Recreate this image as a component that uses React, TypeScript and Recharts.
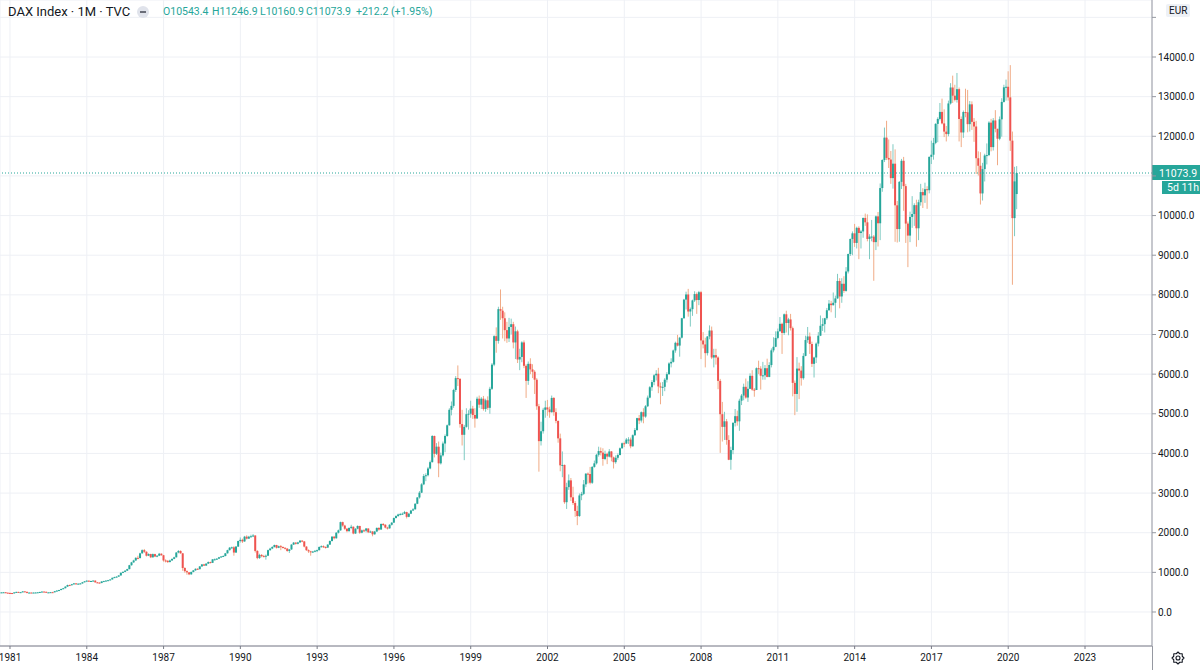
import { ComposedChart, Bar, XAxis, YAxis, CartesianGrid, ReferenceLine } from 'recharts';

const UP = '#26a69a';
const DOWN = '#ef5350';
const UP_WICK = '#7fcac2';
const DOWN_WICK = '#f0ab86';
const GRID = '#eef0f5';
const TEXT = '#131722';
const FONT = 'Roboto, "Noto Sans", sans-serif';

// monthly closes, Sep 1980 - Dec 1989
const close1980s = [
  495, 498, 487, 481,
  478, 470, 494, 507, 495, 500, 520, 509, 482, 490, 487, 490,
  492, 497, 505, 515, 510, 490, 495, 500, 497, 525, 540, 553,
  580, 600, 640, 680, 675, 700, 722, 700, 715, 720, 750, 774,
  790, 770, 782, 792, 748, 742, 730, 770, 780, 792, 802, 821,
  862, 880, 892, 922, 990, 1012, 1042, 1082, 1180, 1252, 1300, 1366,
  1360, 1480, 1560, 1520, 1420, 1462, 1380, 1460, 1400, 1420, 1470, 1432,
  1300, 1290, 1260, 1300, 1340, 1380, 1500, 1540, 1480, 1110, 1030, 1000,
  950, 1010, 1050, 1090, 1080, 1150, 1200, 1170, 1220, 1260, 1240, 1328,
  1330, 1345, 1380, 1400, 1412, 1480, 1560, 1622, 1632, 1500, 1650, 1790,
];
const high1980s = [
  500, 505, 500, 490,
  488, 482, 498, 512, 510, 505, 525, 524, 510, 496, 495, 496,
  498, 502, 510, 520, 520, 512, 500, 505, 508, 530, 548, 560,
  590, 608, 648, 690, 692, 708, 730, 728, 722, 732, 758, 780,
  800, 795, 790, 800, 795, 758, 748, 776, 788, 800, 810, 826,
  870, 890, 902, 930, 998, 1025, 1055, 1090, 1190, 1265, 1318, 1380,
  1420, 1495, 1580, 1590, 1530, 1480, 1470, 1475, 1470, 1435, 1490, 1480,
  1440, 1330, 1310, 1320, 1350, 1395, 1510, 1560, 1555, 1490, 1130, 1050,
  1010, 1020, 1060, 1100, 1105, 1160, 1210, 1215, 1230, 1275, 1270, 1335,
  1350, 1360, 1390, 1410, 1430, 1490, 1570, 1640, 1650, 1660, 1665, 1800,
];
const low1980s = [
  485, 490, 482, 475,
  470, 462, 468, 490, 490, 488, 498, 503, 470, 478, 480, 482,
  484, 488, 494, 502, 505, 486, 486, 488, 490, 495, 522, 535,
  550, 575, 596, 636, 665, 670, 695, 695, 695, 705, 716, 745,
  770, 762, 764, 775, 740, 730, 722, 728, 765, 775, 785, 798,
  818, 856, 872, 885, 918, 980, 1005, 1035, 1075, 1170, 1240, 1290,
  1330, 1350, 1470, 1490, 1400, 1410, 1360, 1370, 1385, 1380, 1410, 1420,
  1270, 1250, 1235, 1250, 1290, 1330, 1375, 1480, 1470, 1040, 990, 940,
  930, 940, 1000, 1040, 1065, 1075, 1140, 1160, 1165, 1210, 1225, 1235,
  1300, 1315, 1335, 1370, 1390, 1405, 1475, 1550, 1595, 1420, 1490, 1640,
];

// Jan 1990 - Dec 1999
const close1990s = [
  1820, 1780, 1900, 1850, 1900, 1910, 1930, 1540, 1360, 1440, 1410, 1398,
  1420, 1560, 1600, 1640, 1690, 1620, 1660, 1640, 1620, 1600, 1540, 1578,
  1700, 1750, 1720, 1755, 1800, 1780, 1650, 1560, 1530, 1510, 1525, 1545,
  1560, 1640, 1660, 1640, 1625, 1700, 1790, 1900, 1860, 2000, 2060, 2267,
  2180, 2100, 2040, 2120, 2150, 1980, 2100, 2170, 2000, 2060, 2050, 2107,
  2010, 2030, 1960, 2030, 2120, 2080, 2220, 2200, 2130, 2110, 2200, 2254,
  2370, 2420, 2460, 2470, 2480, 2520, 2400, 2480, 2560, 2590, 2730, 2889,
  3010, 3220, 3430, 3450, 3620, 3780, 4440, 3990, 4170, 3750, 3950, 4250,
  4440, 4710, 5100, 5200, 5600, 5900, 5880, 4740, 4470, 4670, 4990, 5002,
  5130, 4970, 4880, 5380, 5230, 5380, 5120, 5340, 5150, 5630, 6240, 6958,
];
const high1990s = [
  1880, 1850, 1920, 1935, 1920, 1950, 1966, 1935, 1560, 1470, 1460, 1440,
  1450, 1575, 1620, 1660, 1700, 1695, 1675, 1690, 1655, 1630, 1610, 1590,
  1710, 1765, 1760, 1770, 1815, 1812, 1790, 1660, 1580, 1545, 1540, 1560,
  1575, 1655, 1680, 1680, 1655, 1710, 1805, 1915, 1920, 2015, 2080, 2280,
  2280, 2200, 2120, 2135, 2200, 2160, 2115, 2185, 2175, 2080, 2090, 2120,
  2110, 2055, 2040, 2045, 2135, 2140, 2235, 2245, 2215, 2150, 2215, 2265,
  2385, 2440, 2480, 2500, 2510, 2550, 2530, 2500, 2575, 2620, 2745, 2900,
  3050, 3250, 3480, 3500, 3660, 3820, 4460, 4450, 4260, 4300, 4020, 4300,
  4480, 4730, 5140, 5310, 5630, 5950, 6220, 5900, 5100, 4720, 5140, 5090,
  5330, 5200, 5140, 5430, 5460, 5420, 5450, 5380, 5440, 5680, 6280, 6980,
];
const low1990s = [
  1750, 1740, 1770, 1830, 1845, 1880, 1890, 1500, 1330, 1340, 1380, 1380,
  1320, 1410, 1545, 1585, 1625, 1600, 1610, 1560, 1600, 1575, 1520, 1490,
  1570, 1690, 1700, 1705, 1745, 1760, 1630, 1540, 1490, 1420, 1490, 1505,
  1510, 1550, 1625, 1615, 1600, 1615, 1690, 1780, 1830, 1850, 1980, 2050,
  2150, 2070, 2010, 2025, 2090, 1960, 1970, 2085, 1970, 1985, 2020, 2010,
  1990, 1995, 1910, 1950, 2020, 2050, 2075, 2170, 2110, 2080, 2100, 2180,
  2250, 2360, 2400, 2440, 2450, 2470, 2360, 2390, 2470, 2545, 2585, 2720,
  2860, 3000, 3200, 3300, 3420, 3600, 3770, 3900, 3960, 3400, 3720, 3920,
  4030, 4420, 4700, 4960, 5150, 5550, 5700, 4650, 4200, 3830, 4650, 4600,
  4900, 4870, 4650, 4880, 5150, 5120, 5080, 5050, 5100, 5000, 5600, 6200,
];

// Jan 2000 - Dec 2009
const close2000s = [
  6840, 7640, 7600, 7410, 7110, 6900, 7190, 7260, 6800, 7080, 6370, 6434,
  6800, 6210, 5830, 6260, 6120, 6060, 5860, 5190, 4310, 4560, 5100, 5160,
  5110, 5040, 5400, 5040, 4820, 4380, 3700, 3710, 2770, 3150, 3320, 2893,
  2750, 2550, 2420, 2940, 2980, 3220, 3490, 3480, 3260, 3660, 3750, 3965,
  4060, 4020, 3860, 3990, 3920, 4050, 3900, 3780, 3890, 3960, 4130, 4256,
  4250, 4350, 4350, 4180, 4460, 4590, 4890, 4830, 5040, 4930, 5190, 5408,
  5670, 5800, 5970, 6010, 5690, 5680, 5680, 5860, 6000, 6270, 6310, 6597,
  6790, 6720, 6920, 7410, 7880, 8010, 7580, 7640, 7860, 8020, 7870, 8067,
  6850, 6750, 6530, 6950, 7100, 6420, 6480, 6420, 5830, 4990, 4670, 4810,
  4340, 3840, 4085, 4770, 4940, 4810, 5330, 5460, 5680, 5410, 5630, 5957,
];
const high2000s = [
  7180, 7700, 8136, 7700, 7560, 7320, 7420, 7400, 7320, 7200, 7120, 6640,
  6830, 6850, 6250, 6320, 6400, 6250, 6100, 5900, 5250, 4800, 5150, 5330,
  5350, 5180, 5460, 5420, 5140, 4830, 4500, 4050, 3720, 3260, 3470, 3380,
  3160, 2800, 2680, 2990, 3030, 3330, 3500, 3520, 3660, 3680, 3820, 3990,
  4170, 4150, 4130, 4070, 4020, 4110, 4060, 3920, 3950, 4000, 4150, 4275,
  4300, 4390, 4410, 4400, 4480, 4640, 4900, 4970, 5060, 5140, 5220, 5460,
  5700, 5850, 6000, 6100, 6160, 5790, 5800, 5900, 6050, 6300, 6400, 6620,
  6820, 6990, 6940, 7420, 7900, 8080, 8151, 7680, 7880, 8090, 8060, 8100,
  8100, 7060, 6920, 6960, 7230, 7200, 6640, 6640, 6450, 5880, 5300, 5050,
  4870, 4460, 4170, 4790, 5120, 5080, 5380, 5500, 5760, 5890, 5820, 6020,
];
const low2000s = [
  6540, 6770, 7370, 6900, 6830, 6790, 6810, 7000, 6650, 6380, 6280, 6100,
  6300, 6150, 5400, 5730, 6000, 5900, 5500, 5100, 3540, 4200, 4500, 4900,
  4950, 4900, 5030, 4950, 4760, 4270, 3550, 3400, 2730, 2600, 3080, 2800,
  2700, 2400, 2190, 2400, 2820, 2950, 3150, 3240, 3220, 3230, 3640, 3720,
  3920, 3950, 3690, 3830, 3730, 3900, 3800, 3620, 3740, 3840, 3950, 4120,
  4160, 4240, 4240, 4130, 4170, 4440, 4570, 4740, 4780, 4760, 4900, 5170,
  5390, 5580, 5720, 5840, 5520, 5240, 5450, 5570, 5790, 5980, 6170, 6290,
  6540, 6700, 6440, 6900, 7400, 7630, 7450, 7200, 7470, 7820, 7520, 7740,
  6380, 6650, 6170, 6470, 6880, 6380, 6170, 6240, 5620, 4014, 4300, 4340,
  4220, 3830, 3588, 3980, 4680, 4700, 4570, 5220, 5340, 5380, 5300, 5630,
];

// Jan 2010 - Apr 2020
const close2010s = [
  5610, 5600, 6150, 6140, 5960, 5970, 6150, 5930, 6230, 6600, 6690, 6914,
  7080, 7270, 7040, 7510, 7290, 7380, 7160, 5780, 5500, 6140, 6090, 5898,
  6460, 6860, 6950, 6760, 6260, 6420, 6770, 6970, 7220, 7260, 7410, 7612,
  7780, 7740, 7800, 7910, 8350, 7960, 8280, 8100, 8590, 9030, 9410, 9552,
  9310, 9690, 9560, 9600, 9940, 9830, 9410, 9470, 9470, 9330, 9980, 9806,
  10694, 11402, 11966, 11454, 11413, 10945, 11309, 10259, 9660, 10850, 11382, 10743,
  9798, 9495, 9966, 10039, 10263, 9680, 10337, 10593, 10511, 10665, 10640, 11481,
  11535, 11834, 12313, 12438, 12615, 12325, 12118, 12056, 12829, 13230, 13024, 12918,
  13189, 12436, 12097, 12612, 12605, 12306, 12806, 12364, 12247, 11447, 11257, 10559,
  11173, 11516, 11526, 12345, 11727, 12399, 12189, 11939, 12428, 12867, 13236, 13249,
  12982, 11890, 9936, 10862,
];
const high2010s = [
  6100, 5650, 6170, 6340, 6200, 6310, 6230, 6390, 6300, 6650, 6930, 7080,
  7150, 7440, 7300, 7530, 7600, 7420, 7520, 7200, 5840, 6430, 6290, 6200,
  6530, 6970, 7190, 7050, 6820, 6440, 6800, 7060, 7480, 7410, 7420, 7670,
  7870, 7850, 8060, 7980, 8530, 8420, 8420, 8470, 8700, 9040, 9420, 9600,
  9790, 9720, 9730, 9640, 9950, 10050, 10030, 9530, 9890, 9510, 10000, 10090,
  10810, 11420, 12220, 12391, 11920, 11630, 11800, 11670, 10370, 10870, 11430, 11480,
  10800, 9850, 10100, 10490, 10310, 10400, 10400, 10800, 10690, 10830, 10740, 11490,
  11890, 11960, 12330, 12480, 12840, 12950, 12680, 12260, 12900, 13340, 13530, 13300,
  13597, 13230, 12500, 12650, 13200, 13170, 12890, 12880, 12460, 12390, 11620, 11600,
  11330, 11560, 11820, 12380, 12440, 12460, 12660, 12190, 12500, 12960, 13300, 13430,
  13640, 13795, 12120, 11230,
];
const low2010s = [
  5580, 5430, 5600, 6000, 5610, 5860, 5860, 5920, 5920, 6170, 6550, 6680,
  6880, 7080, 6510, 6990, 7050, 6980, 7100, 5440, 4965, 5050, 5370, 5710,
  5860, 6450, 6790, 6510, 6180, 5915, 6280, 6700, 6960, 7090, 7050, 7370,
  7600, 7560, 7730, 7420, 7900, 7660, 7800, 8050, 8080, 8540, 8980, 9000,
  9210, 9170, 8900, 9170, 9440, 9740, 9350, 8900, 9350, 8355, 9130, 9220,
  9380, 10600, 11350, 11400, 11200, 10800, 10680, 9338, 9320, 9340, 10670, 10120,
  9310, 8699, 9330, 9690, 9740, 9214, 9380, 10250, 10190, 10320, 10170, 10560,
  11300, 11410, 11800, 11850, 12400, 12300, 11980, 11870, 12000, 12800, 12840, 12880,
  12850, 11870, 11727, 11960, 12480, 12100, 12120, 12160, 11860, 11050, 11010, 10279,
  10380, 10860, 11290, 11500, 11620, 11640, 12100, 11270, 11900, 11990, 12850, 12900,
  12900, 11630, 8255, 9480,
];

const firstOpen = 490;
const startMonth = -4; // Sep 1980, counted in months from Jan 1981
// the unfinished May 2020 bar: open, high, low, close
const currentBar = [10543.4, 11246.9, 10160.9, 11073.9];
const change = '+212.2 (+1.95%)';
const countdown = '5d 11h';

const xTickYears = [1981, 1984, 1987, 1990, 1993, 1996, 1999, 2002, 2005, 2008, 2011, 2014, 2017, 2020, 2023];
const yTickValues = [0, 1000, 2000, 3000, 4000, 5000, 6000, 7000, 8000, 9000, 10000, 11000, 12000, 13000, 14000, 15000];
// labels hidden behind the price tag and the currency box
const hiddenYLabels = [11000, 15000];

type Candle = { t: number; o: number; h: number; l: number; c: number };

const closes = [...close1980s, ...close1990s, ...close2000s, ...close2010s];
const highs = [...high1980s, ...high1990s, ...high2000s, ...high2010s];
const lows = [...low1980s, ...low1990s, ...low2000s, ...low2010s];

const candles: Candle[] = closes.map((c, i) => {
  const o = i === 0 ? firstOpen : closes[i - 1];
  return { t: startMonth + i, o, h: Math.max(highs[i], o, c), l: Math.min(lows[i], o, c), c };
});
candles.push({
  t: startMonth + closes.length,
  o: currentBar[0],
  h: currentBar[1],
  l: currentBar[2],
  c: currentBar[3],
});

const xTicks = xTickYears.map((y) => (y - 1981) * 12);

const CandleShape = (props: any) => {
  const { x, y, width, height, payload } = props;
  if (!payload || !Number.isFinite(y) || !Number.isFinite(height)) return <g />;
  const { o, h, l, c } = payload as Candle;
  const top = Math.min(y, y + height);
  const bottom = Math.max(y, y + height);
  const ppu = h > l ? (bottom - top) / (h - l) : 0;
  const toY = (v: number) => top + (h - v) * ppu;
  const up = c >= o;
  const cx = x + width / 2;
  const bTop = toY(Math.max(o, c));
  const bBot = toY(Math.min(o, c));
  return (
    <g>
      <line x1={cx} x2={cx} y1={top} y2={bottom} stroke={up ? UP_WICK : DOWN_WICK} strokeWidth={1} />
      <rect x={cx - 1} y={bTop} width={2} height={Math.max(bBot - bTop, 1)} fill={up ? UP : DOWN} />
    </g>
  );
};

const PriceLabel = (p: any) => {
  const vb = p.viewBox || {};
  const right = (vb.x ?? 0) + (vb.width ?? 0);
  const cy = vb.y ?? 0;
  return (
    <g>
      <rect x={right} y={cy - 8} width={48} height={15} fill={UP} />
      <text x={right + 7} y={cy + 3.5} fill="#fff" fontSize={10.5} fontFamily={FONT}>
        {currentBar[3].toFixed(1)}
      </text>
      <rect x={right + 10} y={cy + 8} width={38} height={13} fill={UP} />
      <text x={right + 15} y={cy + 18} fill="#fff" fontSize={10.5} fontFamily={FONT}>
        {countdown}
      </text>
    </g>
  );
};

function Gear() {
  const pts: string[] = [];
  for (let i = 0; i < 16; i++) {
    const a = (i / 16) * Math.PI * 2;
    const r = i % 2 === 0 ? 6 : 4.6;
    pts.push(`${(Math.cos(a) * r).toFixed(2)},${(Math.sin(a) * r).toFixed(2)}`);
  }
  return (
    <svg width={16} height={16} style={{ position: 'absolute', left: 1170, top: 650 }}>
      <g transform="translate(8,8)">
        <polygon points={pts.join(' ')} fill="none" stroke={TEXT} strokeWidth={1.1} strokeLinejoin="round" />
        <circle r={2} fill="none" stroke={TEXT} strokeWidth={1.1} />
      </g>
    </svg>
  );
}

export default function App() {
  const ohlc = [
    { k: 'O', v: currentBar[0], left: 163 },
    { k: 'H', v: currentBar[1], left: 212 },
    { k: 'L', v: currentBar[2], left: 260 },
    { k: 'C', v: currentBar[3], left: 306 },
  ];
  return (
    <div style={{ position: 'relative', width: 1200, height: 670, background: '#fff', fontFamily: FONT, overflow: 'hidden' }}>
      <style>{'body{margin:0}'}</style>
      <ComposedChart
        width={1200}
        height={670}
        data={candles}
        margin={{ top: 0, right: 0, bottom: 0, left: 0 }}
        style={{ fontFamily: FONT }}
      >
        <CartesianGrid stroke={GRID} />
        <XAxis
          type="number"
          dataKey="t"
          domain={[-4.688, 535.41]}
          allowDataOverflow
          ticks={xTicks}
          interval={0}
          height={24}
          tickFormatter={(m: number) => String(1981 + m / 12)}
          tick={{ fontSize: 10, fill: TEXT, fontFamily: FONT }}
          tickSize={3}
          tickMargin={5}
          axisLine={{ stroke: '#787b86' }}
          tickLine={{ stroke: '#787b86' }}
        />
        <YAxis
          type="number"
          orientation="right"
          width={48}
          domain={[-857.7, 15438]}
          allowDataOverflow
          ticks={yTickValues}
          interval={0}
          tickFormatter={(v: number) => (hiddenYLabels.includes(v) ? '' : v.toFixed(1))}
          tick={{ fontSize: 10, fill: TEXT, fontFamily: FONT }}
          tickSize={4}
          tickMargin={2}
          axisLine={{ stroke: '#9598a1' }}
          tickLine={{ stroke: '#9598a1' }}
        />
        <Bar
          dataKey={(d: Candle) => [d.l, d.h]}
          barSize={2}
          shape={CandleShape}
          isAnimationActive={false}
        />
        <ReferenceLine y={currentBar[3]} stroke={UP} strokeDasharray="1 2" label={PriceLabel} />
      </ComposedChart>

      <div style={{ position: 'absolute', left: 1152, top: 646, width: 1, height: 24, background: '#9598a1' }} />

      <div style={{ position: 'absolute', left: 8, top: 3, fontSize: 13, color: TEXT, whiteSpace: 'nowrap', lineHeight: '18px' }}>
        DAX Index · 1M · TVC
      </div>
      <div
        style={{
          position: 'absolute', left: 137, top: 6, width: 12, height: 12, borderRadius: 6,
          background: '#e0e3eb', display: 'flex', alignItems: 'center', justifyContent: 'center',
        }}
      >
        <div style={{ width: 6, height: 1.5, background: '#6a6d78' }} />
      </div>
      {ohlc.map((it) => (
        <div key={it.k} style={{ position: 'absolute', left: it.left, top: 4, fontSize: 10.5, color: UP, whiteSpace: 'nowrap', lineHeight: '16px' }}>
          {it.k}{it.v.toFixed(1)}
        </div>
      ))}
      <div style={{ position: 'absolute', left: 356, top: 4, fontSize: 10.5, color: UP, whiteSpace: 'nowrap', lineHeight: '16px' }}>
        {change}
      </div>

      <div
        style={{
          position: 'absolute', left: 1166, top: 4, padding: '0 3px', height: 13, lineHeight: '13px',
          fontSize: 10, color: TEXT, background: '#eef1f6', borderRadius: 2,
        }}
      >
        EUR
      </div>
      <Gear />
    </div>
  );
}
